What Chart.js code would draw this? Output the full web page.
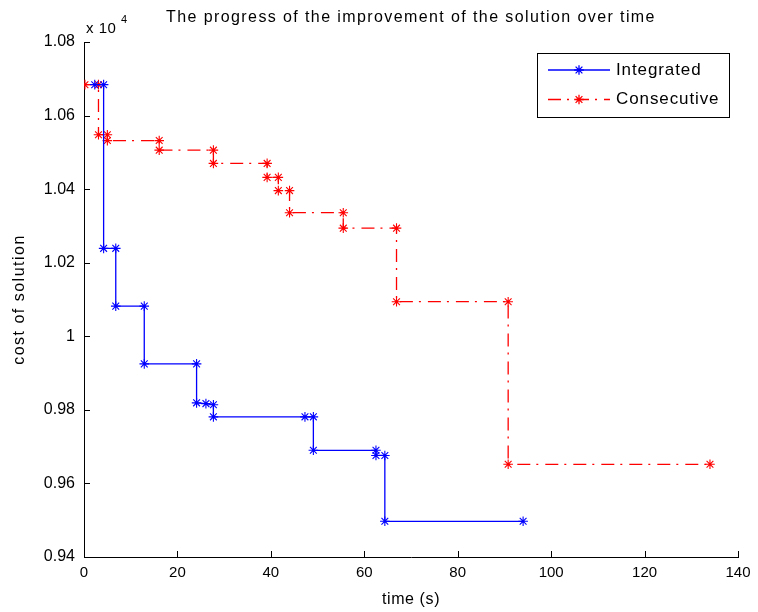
<!DOCTYPE html>
<html><head><meta charset="utf-8">
<script src="https://cdn.jsdelivr.net/npm/chart.js@4.4.1/dist/chart.umd.min.js"></script>
<style>html,body{margin:0;padding:0;background:#fff;}#wrap{width:758px;height:612px;}</style>
</head><body><div id="wrap"><canvas id="c" width="758" height="612"></canvas></div>
<script>
// ---- data ----
const integratedTime = [2.3, 4.2, 4.2, 6.8, 6.8, 12.9, 12.9, 24.1, 24.1, 26.1, 27.7, 27.7, 47.3, 49.1, 49.1, 62.5, 62.5, 64.4, 64.4, 94.0];
const integratedCost = [10684, 10684, 10239, 10239, 10082, 10082, 9925, 9925, 9819, 9817, 9814, 9781, 9781, 9781, 9690, 9690, 9676, 9676, 9497, 9497];
const consecutiveTime = [0.2, 3.1, 3.1, 5.0, 5.0, 16.1, 16.1, 27.7, 27.7, 39.2, 39.2, 41.6, 41.6, 44.0, 44.0, 55.5, 55.5, 66.9, 66.9, 90.8, 90.8, 134.0];
const consecutiveCost = [10684, 10684, 10548, 10548, 10532, 10532, 10506, 10506, 10470, 10470, 10432, 10432, 10396, 10396, 10336, 10336, 10294, 10294, 10094, 10094, 9652, 9652];
const xTickValues = [0, 20, 40, 60, 80, 100, 120, 140];
const yTickValues = [9400, 9600, 9800, 10000, 10200, 10400, 10600, 10800];
const seriesNames = ['Integrated', 'Consecutive'];
const titleText = 'The progress of the improvement of the solution over time';
const xTitle = 'time (s)';
const yTitle = 'cost of solution';

const FONT = '"Liberation Sans", Arial, Helvetica, sans-serif';
const toPts = (xs, ys) => xs.map((x, i) => ({x: x, y: ys[i]}));
const fmtY = v => String(+(v / 1e4).toFixed(2));

const decor = {
  id: 'decor',
  afterDraw(chart) {
    const ctx = chart.ctx, a = chart.chartArea;
    const xs = chart.scales.x, ys = chart.scales.y;
    ctx.save();
    // inward ticks
    ctx.strokeStyle = '#000'; ctx.lineWidth = 1;
    ctx.beginPath();
    xTickValues.forEach(v => { const p = Math.round(xs.getPixelForValue(v)) + 0.5; ctx.moveTo(p, a.bottom); ctx.lineTo(p, a.bottom - 6); });
    yTickValues.forEach(v => { const p = Math.round(ys.getPixelForValue(v)) + 0.5; ctx.moveTo(a.left, p); ctx.lineTo(a.left + 6, p); });
    ctx.stroke();
    ctx.fillStyle = '#000';
    // title
    ctx.font = '16px ' + FONT; ctx.textAlign = 'center'; ctx.textBaseline = 'middle';
    ctx.letterSpacing = '1.4px';
    ctx.fillText(titleText, (a.left + a.right) / 2, 18);
    // x title
    ctx.letterSpacing = '0.6px';
    ctx.fillText(xTitle, (a.left + a.right) / 2, 600);
    // y title
    ctx.save(); ctx.translate(20, (a.top + a.bottom) / 2); ctx.rotate(-Math.PI / 2);
    ctx.letterSpacing = '1.5px';
    ctx.fillText(yTitle, 0, 0); ctx.restore();
    // exponent
    ctx.letterSpacing = '0.5px';
    ctx.textAlign = 'left'; ctx.textBaseline = 'alphabetic';
    ctx.font = '15px ' + FONT; ctx.fillText('x 10', 86, 33);
    ctx.font = '11px ' + FONT; ctx.fillText('4', 121, 23);
    // legend
    const lx = 537, ly = 53, lw = 192, lh = 64;
    ctx.fillStyle = '#fff'; ctx.fillRect(lx, ly, lw, lh);
    ctx.strokeStyle = '#000'; ctx.lineWidth = 1; ctx.strokeRect(lx + 0.5, ly + 0.5, lw, lh);
    chart.data.datasets.forEach((ds, i) => {
      const yy = ly + 17 + i * 29.5;
      ctx.save();
      ctx.strokeStyle = ds.borderColor; ctx.lineWidth = ds.borderWidth;
      ctx.setLineDash(ds.borderDash || []);
      ctx.beginPath(); ctx.moveTo(548, yy); ctx.lineTo(610, yy); ctx.stroke();
      ctx.setLineDash([]);
      Chart.helpers.drawPoint(ctx, {pointStyle: 'star', radius: ds.pointRadius, borderWidth: 1}, 579, yy);
      ctx.restore();
      ctx.fillStyle = '#000'; ctx.font = '17px ' + FONT; ctx.textBaseline = 'middle';
      ctx.letterSpacing = '0.9px';
      ctx.fillText(ds.label, 616, yy);
    });
    ctx.restore();
  }
};

new Chart(document.getElementById('c'), {
  type: 'scatter',
  data: {
    datasets: [
      { label: seriesNames[0], data: toPts(integratedTime, integratedCost), showLine: true,
        borderColor: '#0000ff', backgroundColor: '#0000ff', borderWidth: 1.3,
        pointStyle: 'star', pointRadius: 4.8, pointBorderWidth: 1.1, pointHoverRadius: 4.8 },
      { label: seriesNames[1], data: toPts(consecutiveTime, consecutiveCost), showLine: true,
        borderColor: '#ff0000', backgroundColor: '#ff0000', borderWidth: 1.3, borderDash: [13, 6, 2, 7],
        pointStyle: 'star', pointRadius: 4.8, pointBorderWidth: 1.1, pointHoverRadius: 4.8 }
    ]
  },
  options: {
    responsive: false, animation: false, devicePixelRatio: 1,
    layout: { padding: { top: 42, right: 20, left: 0, bottom: 0 } },
    plugins: { legend: { display: false }, title: { display: false }, tooltip: { enabled: false } },
    scales: {
      x: { type: 'linear', min: 0, max: 140,
        afterBuildTicks: s => { s.ticks = xTickValues.map(v => ({value: v})); },
        afterFit: s => { s.height = 55; },
        grid: { display: false, drawTicks: false }, border: { display: true, color: '#000', width: 1 },
        ticks: { color: '#000', font: { family: FONT, size: 15 }, padding: 7, maxRotation: 0 } },
      y: { type: 'linear', min: 9400, max: 10800,
        afterBuildTicks: s => { s.ticks = yTickValues.map(v => ({value: v})); },
        afterFit: s => { s.width = 84; },
        grid: { display: false, drawTicks: false }, border: { display: true, color: '#000', width: 1 },
        ticks: { color: '#000', font: { family: FONT, size: 16 }, padding: 9, callback: v => fmtY(v) } }
    }
  },
  plugins: [decor]
});
</script></body></html>
